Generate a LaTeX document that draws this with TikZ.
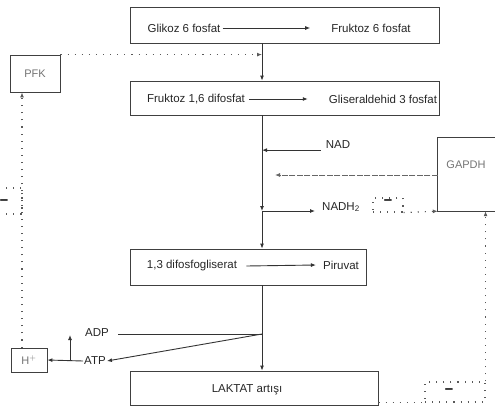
\documentclass[tikz,border=0pt]{standalone}
\usepackage{fontspec}
\setmainfont{Liberation Sans}
\usetikzlibrary{arrows.meta}
\begin{document}
\begin{tikzpicture}[x=1pt,y=-1pt,
  box/.style={draw=black!75,line width=0.8pt,inner sep=0pt},
  dbox/.style={draw=black!65,line width=1.1pt,dash pattern=on 1.1pt off 6pt,inner sep=0pt},
  lbl/.style={inner sep=1pt,text=black!85,font=\fontsize{11.5}{13}\selectfont},
  faint/.style={inner sep=1pt,text=black!55,font=\fontsize{11}{13}\selectfont},
  minus/.style={inner sep=0pt,text=black,font=\fontsize{15}{15}\selectfont\bfseries},
  tip/.style={-{Latex[length=5pt,width=4pt]}},
  con/.style={draw=black!80,line width=0.9pt,tip},
  plain/.style={draw=black!80,line width=0.9pt},
  dotl/.style={draw=black!65,line width=1.1pt,dash pattern=on 1.1pt off 6pt,tip},
  dotp/.style={draw=black!65,line width=1.1pt,dash pattern=on 1.1pt off 6pt},
  ]
\useasboundingbox (0,0) rectangle (495,407);
\clip (0,0) rectangle (495,407);

% boxes
\node[box,minimum width=309pt,minimum height=36pt] (b1) at (284.5,25) {};
\node[box,minimum width=309pt,minimum height=34pt] (b2) at (284.5,98) {};
\node[box,minimum width=236pt,minimum height=36pt] (b3) at (248,267) {};
\node[box,minimum width=248pt,minimum height=34pt] (b4) at (254,388) {};
\node[box,minimum width=50pt,minimum height=37pt] (pfk) at (35,73.5) {};
\node[box,minimum width=36pt,minimum height=24pt] (hplus) at (29,360) {};
\node[inner sep=0pt,minimum width=57pt,minimum height=73pt] (gapdh) at (466.5,174.5) {};
\draw[black!75,line width=0.8pt] (gapdh.north east) -- (gapdh.north west) -- (gapdh.south west) -- (gapdh.south east);

% texts
\node[faint] (pfkt) at (35,74) {PFK};
\node[faint] (hpt) at (29,360) {H$^{+}$};
\node[faint] (gapt) at (466,165) {GAPDH};
\node[lbl] (g6p) at (184,28) {Glikoz 6 fosfat};
\node[lbl] (f6p) at (371,28) {Fruktoz 6 fosfat};
\node[lbl] (f16) at (196,99) {Fruktoz 1,6 difosfat};
\node[lbl] (g3p) at (383,99) {Gliseraldehid 3 fosfat};
\node[lbl] (dpg) at (192,266) {1,3 difosfogliserat};
\node[lbl] (pir) at (341,265) {Piruvat};
\node[lbl] (lak) at (247,390) {LAKTAT artışı};
\node[lbl] (nad) at (338,145) {NAD};
\node[lbl] (nadh) at (341,207) {NADH\textsubscript{2}};
\node[lbl] (adp) at (97,333) {ADP};
\node[lbl] (atp) at (95,361) {ATP};

% inhibition boxes
\node[dbox,minimum width=30pt,minimum height=14pt] (inh1) at (388,205) {};
\node[minus] (m1) at (388,202) {–};
\node[dbox,minimum width=60pt,minimum height=20pt] (inh2) at (455,392) {};
\node[minus] (m2) at (449,391) {–};
\node[dbox,minimum width=30pt,minimum height=26pt] (inh3) at (7,201) {};
\node[minus] (m3) at (4,202) {–};

% main line
\coordinate (main) at (262,0);
\coordinate (lx) at (22,0);
\coordinate (jn) at (262,211);
\coordinate (jadp) at (262,334);
\draw[con] (b1.south -| main) -- (b2.north -| main);
\draw[con] (b2.south -| main) -- (jn);
\draw[con] (jn) -- (b3.north -| main);
\draw[con] (b3.south -| main) -- (b4.north -| main);

% reactions in boxes
\draw[con] ([xshift=1pt]g6p.east) -- ([xshift=-20pt]f6p.west);
\draw[con] ([xshift=3pt]f16.east) -- ([xshift=-20pt]g3p.west);
\draw[con] ([xshift=8pt]dpg.east) -- ([xshift=-6pt]pir.west);

% NAD / NADH2 / GAPDH
\draw[con] ([xshift=-4pt]nad.south west) -- (nad.south west -| main);
\draw[con] (jn) -- ([xshift=-6pt]nadh.west |- jn);
\draw[draw=black!60,line width=0.8pt,dash pattern=on 6pt off 1.5pt,tip] (gapdh.west |- 0,175) -- (275,175);
\draw[dotl] (inh1.south east) -- (gapdh.south west);

% ADP / ATP
\draw[plain] (jadp) -- ([xshift=8pt]adp.east |- jadp);
\draw[con] (jadp) -- (atp.east);
\draw[con] (atp.west) -- (hplus.east);
\coordinate (upb) at (70,361);
\draw[con] (upb) -- ++(0,-26);

% feedback loops
\draw[dotl] (hplus.north -| lx) -- (pfk.south -| lx);
\draw[dotl] (pfk.north east) -- (pfk.north east -| main);
\draw[dotp] (b4.east |- inh2.south) -- (inh2.south west);
\draw[dotl] (inh2.north east) -- (gapdh.south -| inh2.east);
\end{tikzpicture}
\end{document}
